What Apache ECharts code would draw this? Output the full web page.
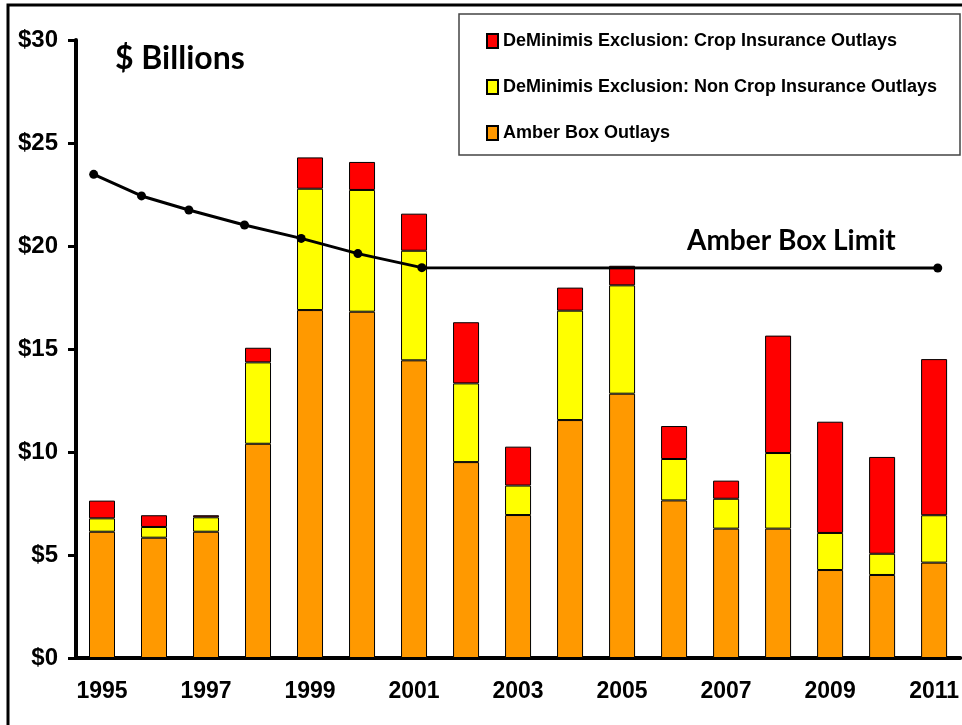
<!DOCTYPE html>
<html>
<head>
<meta charset="utf-8">
<script src="https://cdn.jsdelivr.net/npm/echarts@6/dist/echarts.min.js"></script>
<style>
  html, body { margin: 0; padding: 0; background: #fff; }
  #chart { width: 962px; height: 725px; }
</style>
</head>
<body>
<div id="chart"></div>
<script>
var years = ['1995','1996','1997','1998','1999','2000','2001','2002','2003','2004','2005','2006','2007','2008','2009','2010','2011'];
var amberOutlays = [6.13, 5.84, 6.13, 10.40, 16.89, 16.81, 14.45, 9.51, 6.94, 11.55, 12.83, 7.65, 6.28, 6.28, 4.27, 4.03, 4.63];
var nonCropOutlays = [0.65, 0.52, 0.70, 3.95, 5.89, 5.91, 5.32, 3.82, 1.43, 5.31, 5.26, 2.01, 1.45, 3.67, 1.80, 1.03, 2.30];
var cropOutlays = [0.86, 0.57, 0.10, 0.71, 1.52, 1.36, 1.80, 2.97, 1.89, 1.12, 0.95, 1.60, 0.88, 5.70, 5.40, 4.70, 7.58];
// limit line points sit a bit off the bar centres in the original
var limitYears = [1994.84, 1995.76, 1996.67, 1997.74, 1998.83, 1999.92, 2001.15, 2011.07];
var limitValues = [23.48, 22.43, 21.75, 21.02, 20.37, 19.63, 18.95, 18.93];
var yTicks = [0, 5, 10, 15, 20, 25, 30];

var font = '"Liberation Sans", Arial, sans-serif';

var names = {
    crop: 'DeMinimis Exclusion: Crop Insurance Outlays',
    nonCrop: 'DeMinimis Exclusion: Non Crop Insurance Outlays',
    amber: 'Amber Box Outlays'
};

function barSeries(name, data, color) {
    return {
        name: name,
        type: 'bar',
        stack: 'total',
        barWidth: 26,
        data: data,
        itemStyle: {color: color, borderColor: '#000', borderWidth: 1}
    };
}

var limitData = [];
for (var i = 0; i < limitYears.length; i++) {
    limitData.push([limitYears[i], limitValues[i]]);
}

var chart = echarts.init(document.getElementById('chart'));
var option = {
    animation: false,
    backgroundColor: '#fff',
    grid: {left: 76, right: 0, top: 40, bottom: 67},
    title: {
        text: '$ Billions',
        left: 110,
        top: 38,
        textStyle: {fontFamily: 'Lato, sans-serif', fontWeight: 'bold', fontSize: 32, color: '#000'}
    },
    legend: {
        orient: 'vertical',
        left: 481,
        top: 26,
        itemWidth: 11,
        itemHeight: 14,
        itemGap: 26,
        icon: 'rect',
        data: [names.crop, names.nonCrop, names.amber],
        textStyle: {fontFamily: font, fontWeight: 'bold', fontSize: 18, color: '#000', lineHeight: 20}
    },
    graphic: [
        {type: 'rect', shape: {x: 8, y: 5, width: 1000, height: 800}, style: {fill: 'none', stroke: '#000', lineWidth: 3}, z: 100},
        {type: 'rect', shape: {x: 459, y: 14, width: 501, height: 141}, style: {fill: 'none', stroke: '#444', lineWidth: 1.5}, z: 100},
        {type: 'text', left: 687, top: 227, style: {text: 'Amber Box Limit', fontFamily: 'Lato, sans-serif', fontWeight: 'bold', fontSize: 28, fill: '#000'}, z: 100}
    ],
    xAxis: [{
        type: 'category',
        data: years,
        axisLine: {lineStyle: {color: '#000', width: 4}},
        axisTick: {interval: 0, length: 10, lineStyle: {color: '#000', width: 3}},
        axisLabel: {interval: 1, margin: 22, fontFamily: font, fontWeight: 'bold', fontSize: 23, color: '#000'}
    }, {
        type: 'value',
        min: 1994.5,
        max: 2011.5,
        show: false
    }],
    yAxis: {
        type: 'value',
        min: yTicks[0],
        max: yTicks[yTicks.length - 1],
        interval: 5,
        splitLine: {show: false},
        axisLine: {show: true, lineStyle: {color: '#000', width: 4}},
        axisTick: {show: true, length: 8, lineStyle: {color: '#000', width: 3}},
        axisLabel: {margin: 18, fontFamily: font, fontWeight: 'bold', fontSize: 24, color: '#000',
            formatter: function (v) { return '$' + v; }}
    },
    series: [
        barSeries(names.amber, amberOutlays, '#FF9900'),
        barSeries(names.nonCrop, nonCropOutlays, '#FFFF00'),
        barSeries(names.crop, cropOutlays, '#FF0000'),
        {
            name: 'Amber Box Limit',
            type: 'line',
            xAxisIndex: 1,
            data: limitData,
            symbol: 'circle',
            symbolSize: 9,
            lineStyle: {color: '#000', width: 3},
            itemStyle: {color: '#000'},
            z: 5
        }
    ]
};
chart.setOption(option, true);
</script>
</body>
</html>
